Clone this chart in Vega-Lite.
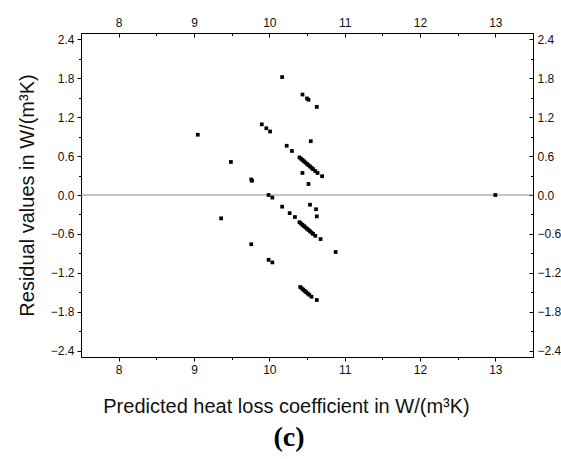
{
  "$schema": "https://vega.github.io/schema/vega-lite/v6.json",
  "autosize": {"type": "none"},
  "width": 452,
  "height": 324,
  "padding": {"left": 81, "top": 33, "right": 28, "bottom": 102},
  "background": "white",
  "title": {"text": "(c)", "orient": "bottom", "font": "Liberation Serif", "fontWeight": "bold", "fontSize": 28, "color": "black", "offset": 8, "dx": -18},
  "config": {
    "view": {"stroke": "black", "strokeWidth": 1},
    "axis": {"domainColor": "black", "tickColor": "black", "labelColor": "#111", "labelFont": "Liberation Sans", "labelFontSize": 12, "titleFont": "Liberation Sans", "titleFontWeight": "normal", "titleColor": "#111", "titleFontSize": 20, "grid": false}
  },
  "datasets": {
    "pts": [
      {"pred": 9.05, "res": 0.93},
      {"pred": 10.17, "res": 1.82},
      {"pred": 10.44, "res": 1.55},
      {"pred": 10.50, "res": 1.49},
      {"pred": 10.52, "res": 1.47},
      {"pred": 10.63, "res": 1.36},
      {"pred": 9.90, "res": 1.09},
      {"pred": 9.96, "res": 1.03},
      {"pred": 10.01, "res": 0.98},
      {"pred": 10.55, "res": 0.83},
      {"pred": 10.23, "res": 0.76},
      {"pred": 10.30, "res": 0.68},
      {"pred": 10.40, "res": 0.58},
      {"pred": 10.42, "res": 0.56},
      {"pred": 10.44, "res": 0.54},
      {"pred": 10.46, "res": 0.52},
      {"pred": 10.48, "res": 0.50},
      {"pred": 10.50, "res": 0.48},
      {"pred": 10.52, "res": 0.46},
      {"pred": 10.54, "res": 0.44},
      {"pred": 10.56, "res": 0.42},
      {"pred": 10.58, "res": 0.40},
      {"pred": 10.61, "res": 0.37},
      {"pred": 10.64, "res": 0.34},
      {"pred": 10.70, "res": 0.29},
      {"pred": 10.44, "res": 0.34},
      {"pred": 10.52, "res": 0.17},
      {"pred": 9.76, "res": 0.24},
      {"pred": 9.77, "res": 0.22},
      {"pred": 9.49, "res": 0.51},
      {"pred": 9.99, "res": 0.00},
      {"pred": 10.04, "res": -0.04},
      {"pred": 13.0, "res": 0.0},
      {"pred": 9.36, "res": -0.36},
      {"pred": 9.76, "res": -0.76},
      {"pred": 9.99, "res": -1.00},
      {"pred": 10.04, "res": -1.04},
      {"pred": 10.17, "res": -0.18},
      {"pred": 10.27, "res": -0.28},
      {"pred": 10.34, "res": -0.34},
      {"pred": 10.54, "res": -0.15},
      {"pred": 10.62, "res": -0.22},
      {"pred": 10.63, "res": -0.33},
      {"pred": 10.40, "res": -0.42},
      {"pred": 10.42, "res": -0.44},
      {"pred": 10.44, "res": -0.46},
      {"pred": 10.46, "res": -0.48},
      {"pred": 10.48, "res": -0.50},
      {"pred": 10.50, "res": -0.52},
      {"pred": 10.52, "res": -0.54},
      {"pred": 10.54, "res": -0.56},
      {"pred": 10.56, "res": -0.58},
      {"pred": 10.58, "res": -0.60},
      {"pred": 10.61, "res": -0.63},
      {"pred": 10.68, "res": -0.68},
      {"pred": 10.88, "res": -0.88},
      {"pred": 10.41, "res": -1.42},
      {"pred": 10.43, "res": -1.44},
      {"pred": 10.45, "res": -1.46},
      {"pred": 10.47, "res": -1.48},
      {"pred": 10.49, "res": -1.50},
      {"pred": 10.51, "res": -1.52},
      {"pred": 10.53, "res": -1.54},
      {"pred": 10.56, "res": -1.57},
      {"pred": 10.63, "res": -1.62}
    ]
  },
  "resolve": {"axis": {"x": "independent", "y": "independent"}},
  "layer": [
    {
      "data": {"values": [{"z": 0}]},
      "mark": {"type": "rule", "color": "#8a8a8a", "strokeWidth": 1},
      "encoding": {"y": {"field": "z", "type": "quantitative", "axis": null, "scale": {"domain": [-2.5, 2.5], "nice": false, "zero": false}}}
    },
    {
      "data": {"name": "pts"},
      "mark": {"type": "square", "size": 14, "color": "black", "opacity": 1},
      "encoding": {
        "x": {"field": "pred", "type": "quantitative",
          "scale": {"domain": [7.5, 13.5], "nice": false, "zero": false},
          "axis": {"orient": "bottom", "title": "Predicted heat loss coefficient in W/(m³K)",
            "values": [8, 8.5, 9, 9.5, 10, 10.5, 11, 11.5, 12, 12.5, 13],
            "labelExpr": "datum.value % 1 == 0 ? format(datum.value, 'd') : ''",
            "tickSize": {"condition": {"test": "datum.value % 1 == 0", "value": 4}, "value": 2.5},
            "labelPadding": 3, "titlePadding": 21, "titleX": 205}},
        "y": {"field": "res", "type": "quantitative",
          "scale": {"domain": [-2.5, 2.5], "nice": false, "zero": false},
          "axis": {"orient": "left", "title": "Residual values in W/(m³K)",
            "values": [-2.4, -2.1, -1.8, -1.5, -1.2, -0.9, -0.6, -0.3, 0, 0.3, 0.6, 0.9, 1.2, 1.5, 1.8, 2.1, 2.4],
            "labelExpr": "abs(round(datum.value / 0.3)) % 2 == 1 ? '' : format(datum.value, '.1f')",
            "tickSize": {"condition": {"test": "abs(round(datum.value / 0.3)) % 2 == 0", "value": 4}, "value": 2.5},
            "labelPadding": 3, "titlePadding": 13}}
      }
    },
    {
      "data": {"values": []},
      "mark": {"type": "point", "opacity": 0},
      "encoding": {
        "x": {"field": "pred", "type": "quantitative",
          "scale": {"domain": [7.5, 13.5], "nice": false, "zero": false},
          "axis": {"orient": "top", "title": null,
            "values": [8, 8.5, 9, 9.5, 10, 10.5, 11, 11.5, 12, 12.5, 13],
            "labelExpr": "datum.value % 1 == 0 ? format(datum.value, 'd') : ''",
            "tickSize": {"condition": {"test": "datum.value % 1 == 0", "value": -4}, "value": -2.5},
            "labelPadding": 8}},
        "y": {"field": "res", "type": "quantitative",
          "scale": {"domain": [-2.5, 2.5], "nice": false, "zero": false},
          "axis": {"orient": "right", "title": null,
            "values": [-2.4, -2.1, -1.8, -1.5, -1.2, -0.9, -0.6, -0.3, 0, 0.3, 0.6, 0.9, 1.2, 1.5, 1.8, 2.1, 2.4],
            "labelExpr": "abs(round(datum.value / 0.3)) % 2 == 1 ? '' : format(datum.value, '.1f')",
            "tickSize": {"condition": {"test": "abs(round(datum.value / 0.3)) % 2 == 0", "value": -4}, "value": -2.5},
            "labelPadding": 8}}
      }
    }
  ]
}
